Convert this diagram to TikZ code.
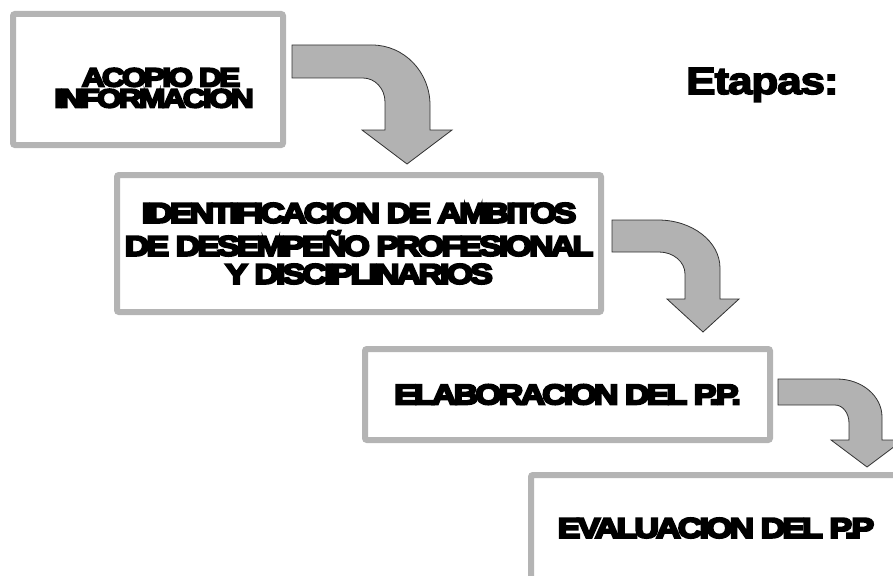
\documentclass[tikz,border=0pt]{standalone}
\usepackage{fontspec}
\newfontfamily\stagefont[LetterSpace=-10,FakeStretch=1.21,FakeBold=8]{Liberation Sans Bold}
\newfontfamily\titlefont[LetterSpace=-3,FakeStretch=1.16,FakeBold=4]{Liberation Sans Bold}
\definecolor{framegray}{RGB}{180,180,180}
\definecolor{arrowgray}{RGB}{178,178,178}
\definecolor{arrowedge}{RGB}{50,50,50}
\begin{document}
\begin{tikzpicture}[x=1pt, y=-1pt,
	stage/.style={rectangle, draw=framegray, line width=6pt, rounded corners=2pt, fill=white, align=center, inner sep=0pt, font=\stagefont\fontsize{28}{28}\selectfont},
	bentarrow/.style={fill=arrowgray, draw=arrowedge, line width=0.8pt}]
\useasboundingbox (0,0) rectangle (893,575);
\clip (0,0) rectangle (893,575);
% stages
\node[stage, minimum width=270, minimum height=131, font=\stagefont\fontsize{26}{21}\selectfont] (acopio) at (148,79.5) {\rule{0pt}{35pt}\hspace*{26pt}ACOPIO DE\\\hspace*{12pt}INFORMACION};
\node[stage, minimum width=484, minimum height=137] (ambitos) at (359,243.5) {IDENTIFICACION DE AMBITOS\\[5pt]DE DESEMPE\~NO PROFESIONAL\\Y DISCIPLINARIOS};
\node[stage, minimum width=405, minimum height=91] (elaboracion) at (567.5,394.5) {ELABORACION DEL P.P.};
\node[stage, minimum width=370, minimum height=106] (evaluacion) at (716,528) {EVALUACION DEL P.P};
\node[anchor=base west, inner sep=0pt, font=\titlefont\fontsize{38}{40}\selectfont] (etapas) at (686,94) {Etapas:};
% bent arrows between the stages
\foreach \ax/\at/\ab/\xin/\xout/\rxi/\ryi/\rxo/\ryo/\hb/\hl/\hr/\tp in {
	292/45/78/385/430/22/24/58/60/130/362/452/164
	,612/220/252/685/720/26/22/62/48/299/667/739/332
	,778/379/405/849/882/14/18/45/38/440/831/903/467
}{
\draw[bentarrow] (\ax,\at) -- ({\xout-\rxo},\at) .. controls ({\xout-0.448*\rxo},\at) and (\xout,{\at+0.448*\ryo}) .. (\xout,{\at+\ryo})
	-- (\xout,\hb) -- (\hr,\hb) -- ({(\hl+\hr)/2},\tp) -- (\hl,\hb) -- (\xin,\hb)
	-- (\xin,{\ab+\ryi}) .. controls (\xin,{\ab+0.448*\ryi}) and ({\xin-0.448*\rxi},\ab) .. ({\xin-\rxi},\ab) -- (\ax,\ab) -- cycle;
}
\end{tikzpicture}
\end{document}
